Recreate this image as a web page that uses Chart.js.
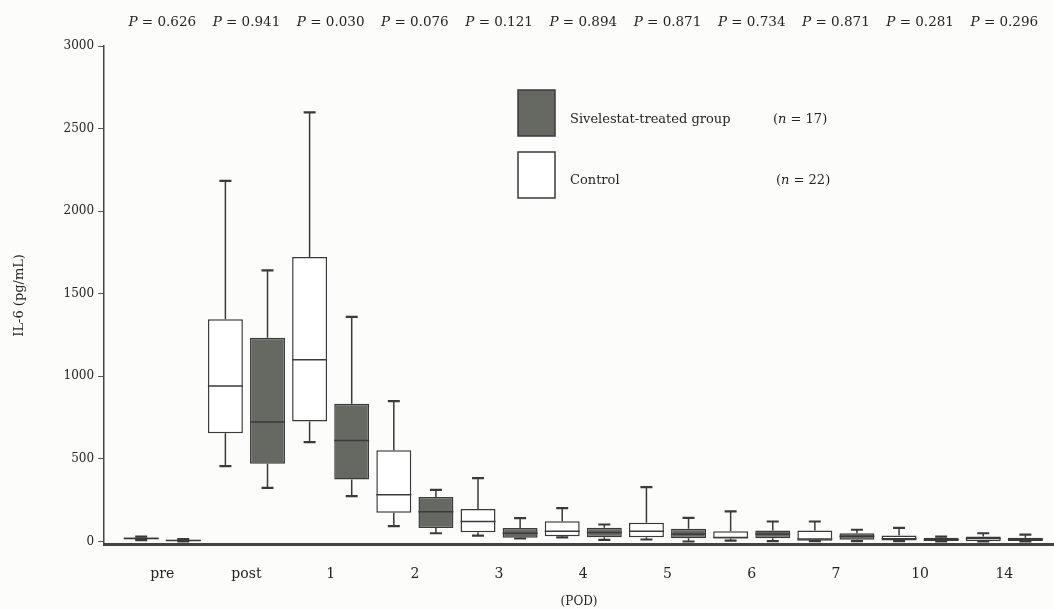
<!DOCTYPE html>
<html>
<head>
<meta charset="utf-8">
<script src="https://cdn.jsdelivr.net/npm/chart.js@4.4.0/dist/chart.umd.min.js"></script>
<style>
    html, body { margin: 0; padding: 0; background: #fcfcfa; }
    #chart { display: block; }
</style>
</head>
<body>
<canvas id="chart" width="1054" height="609"></canvas>
<script>
// POD categories and p values printed above each pair
const categories = ['pre', 'post', '1', '2', '3', '4', '5', '6', '7', '10', '14'];
const pValues = ['0.626', '0.941', '0.030', '0.076', '0.121', '0.894', '0.871', '0.734', '0.871', '0.281', '0.296'];

// Control group (n = 22): whisker low, Q1, median, Q3, whisker high
const controlMin = [8, 456, 602, 93, 36, 25, 12, 5, 2, 2, 0];
const controlQ1 = [13, 656, 727, 174, 56, 32, 26, 18, 5, 6, 2];
const controlMed = [18, 941, 1101, 283, 121, 62, 62, 24, 15, 16, 18];
const controlQ3 = [24, 1345, 1723, 552, 196, 123, 113, 62, 67, 36, 30];
const controlMax = [30, 2184, 2598, 850, 384, 202, 329, 182, 121, 83, 50];

// Sivelestat-treated group (n = 17)
const sivMin = [0, 325, 275, 50, 18, 10, 0, 2, 2, 0, 0];
const sivQ1 = [3, 471, 376, 81, 22, 26, 20, 20, 10, 0, 0];
const sivMed = [6, 723, 612, 180, 50, 55, 46, 46, 32, 10, 12];
const sivQ3 = [10, 1234, 834, 269, 81, 83, 77, 67, 50, 22, 22];
const sivMax = [15, 1642, 1360, 313, 141, 103, 143, 121, 71, 30, 42];

const yTicks = [0, 500, 1000, 1500, 2000, 2500, 3000];

const TEXT = '#242424';
const LINE = '#3a3a3a';
const GRAY = '#656962';
const SERIF = "'DejaVu Serif', 'Liberation Serif', serif";

function boxData(q1, q3) {
    return q1.map((v, i) => ({ x: i, y: [v, q3[i]] }));
}

// whiskers, caps and median lines drawn on top of the floating bars
const whiskerPlugin = {
    id: 'whiskers',
    afterDatasetsDraw(chart) {
        const ctx = chart.ctx;
        const yScale = chart.scales.y;
        ctx.save();
        ctx.strokeStyle = LINE;
        chart.data.datasets.forEach((ds, di) => {
            const meta = chart.getDatasetMeta(di);
            meta.data.forEach((bar, i) => {
                const { x, width } = bar.getProps(['x', 'width'], true);
                const yMin = yScale.getPixelForValue(ds.lows[i]);
                const yQ1 = yScale.getPixelForValue(ds.q1[i]);
                const yQ3 = yScale.getPixelForValue(ds.q3[i]);
                const yMax = yScale.getPixelForValue(ds.highs[i]);
                const yMed = yScale.getPixelForValue(ds.medians[i]);
                const cap = 6;

                ctx.lineWidth = 1.5;
                ctx.beginPath();
                ctx.moveTo(x, yQ3);
                ctx.lineTo(x, yMax);
                ctx.moveTo(x, yQ1);
                ctx.lineTo(x, yMin);
                ctx.stroke();

                ctx.lineWidth = 2.2;
                ctx.beginPath();
                ctx.moveTo(x - cap, yMax);
                ctx.lineTo(x + cap, yMax);
                ctx.moveTo(x - cap, yMin);
                ctx.lineTo(x + cap, yMin);
                ctx.stroke();

                ctx.lineWidth = 1.5;
                ctx.beginPath();
                ctx.moveTo(x - width / 2, yMed);
                ctx.lineTo(x + width / 2, yMed);
                ctx.stroke();
            });
        });
        ctx.restore();
    }
};

// P values above every category, italic P
const pValuePlugin = {
    id: 'pvalues',
    afterDraw(chart) {
        const ctx = chart.ctx;
        const xScale = chart.scales.x;
        const size = 13.5;
        ctx.save();
        ctx.fillStyle = TEXT;
        ctx.textBaseline = 'middle';
        ctx.textAlign = 'left';
        pValues.forEach((p, i) => {
            const cx = xScale.getPixelForValue(i);
            ctx.font = 'italic ' + size + 'px ' + SERIF;
            const wP = ctx.measureText('P').width;
            ctx.font = size + 'px ' + SERIF;
            const rest = ' = ' + p;
            const wR = ctx.measureText(rest).width;
            let left = cx - (wP + wR) / 2;
            ctx.font = 'italic ' + size + 'px ' + SERIF;
            ctx.fillText('P', left, 22);
            ctx.font = size + 'px ' + SERIF;
            ctx.fillText(rest, left + wP, 22);
        });
        ctx.restore();
    }
};

// legend block with the two group swatches and their n
const legendPlugin = {
    id: 'groupLegend',
    afterDraw(chart) {
        const ctx = chart.ctx;
        ctx.save();
        ctx.lineWidth = 1.5;
        ctx.strokeStyle = LINE;

        ctx.fillStyle = GRAY;
        ctx.fillRect(518, 90, 37, 46);
        ctx.strokeRect(518, 90, 37, 46);
        ctx.fillStyle = '#ffffff';
        ctx.fillRect(518, 152, 37, 46);
        ctx.strokeRect(518, 152, 37, 46);

        ctx.fillStyle = TEXT;
        ctx.font = '13px ' + SERIF;
        ctx.textBaseline = 'middle';
        ctx.fillText('Sivelestat-treated group', 570, 120);
        ctx.fillText('Control', 570, 181);

        const nLabel = (n, x, y) => {
            ctx.font = '13px ' + SERIF;
            ctx.fillText('(', x, y);
            let px = x + ctx.measureText('(').width;
            ctx.font = 'italic 13px ' + SERIF;
            ctx.fillText('n', px, y);
            px += ctx.measureText('n').width;
            ctx.font = '13px ' + SERIF;
            ctx.fillText(' = ' + n + ')', px, y);
        };
        nLabel(17, 773, 120);
        nLabel(22, 776, 181);
        ctx.restore();
    }
};

new Chart(document.getElementById('chart'), {
    type: 'bar',
    data: {
        datasets: [
            {
                label: 'Control',
                data: boxData(controlQ1, controlQ3),
                q1: controlQ1, q3: controlQ3,
                lows: controlMin, medians: controlMed, highs: controlMax,
                backgroundColor: '#ffffff',
                borderColor: LINE,
                borderWidth: 1.5,
                borderSkipped: false
            },
            {
                label: 'Sivelestat-treated group',
                data: boxData(sivQ1, sivQ3),
                q1: sivQ1, q3: sivQ3,
                lows: sivMin, medians: sivMed, highs: sivMax,
                backgroundColor: GRAY,
                borderColor: LINE,
                borderWidth: 1.5,
                borderSkipped: false
            }
        ]
    },
    options: {
        responsive: false,
        animation: false,
        events: [],
        categoryPercentage: 1.0,
        barPercentage: 0.83,
        layout: { padding: { top: 46, left: 12, right: 0, bottom: 0 } },
        plugins: {
            legend: { display: false },
            tooltip: { enabled: false }
        },
        scales: {
            x: {
                type: 'linear',
                offset: false,
                min: -0.69,
                max: 10.59,
                afterBuildTicks(scale) {
                    scale.ticks = categories.map((c, i) => ({ value: i }));
                },
                grid: { display: false, drawTicks: false },
                border: { display: true, color: '#444', width: 3 },
                ticks: {
                    color: TEXT,
                    padding: 21,
                    font: { family: SERIF, size: 14 },
                    callback: (v) => categories[v]
                },
                title: {
                    display: true,
                    text: '(POD)',
                    color: TEXT,
                    font: { family: SERIF, size: 12 },
                    padding: { top: -9, bottom: 0 }
                }
            },
            y: {
                min: -20,
                max: 3000,
                afterBuildTicks(scale) {
                    scale.ticks = yTicks.map(v => ({ value: v }));
                },
                grid: {
                    display: true,
                    drawOnChartArea: false,
                    drawTicks: true,
                    tickLength: 6,
                    color: '#555'
                },
                border: { display: true, color: '#444', width: 1.5 },
                ticks: {
                    color: TEXT,
                    padding: 4,
                    font: { family: SERIF, size: 12 },
                    callback: (v) => String(v)
                },
                title: {
                    display: true,
                    text: 'IL-6 (pg/mL)',
                    color: TEXT,
                    font: { family: SERIF, size: 13 },
                    padding: { top: 0, bottom: 32 }
                }
            }
        }
    },
    plugins: [whiskerPlugin, pValuePlugin, legendPlugin]
});
</script>
</body>
</html>
